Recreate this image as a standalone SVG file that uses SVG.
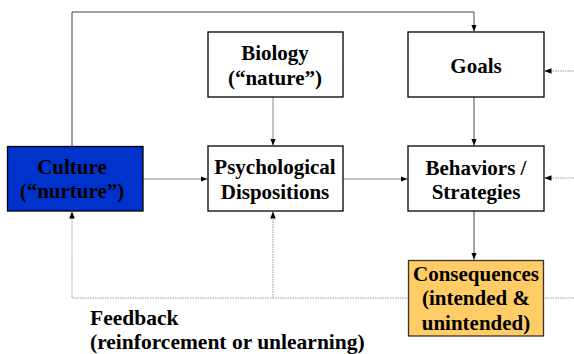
<svg xmlns="http://www.w3.org/2000/svg" width="574" height="354" viewBox="0 0 574 354">
<style>
.box{stroke:#000;stroke-width:1.3;fill:#fff}
text{font-family:'Liberation Serif','Times New Roman',Times,'DejaVu Serif',serif;font-weight:bold;fill:#000}
.t{font-size:21px;text-anchor:middle}
.tl{font-size:21.5px}
.c{fill:none;stroke:#444;stroke-width:1}
.g{fill:none;stroke:#888;stroke-width:1}
.d{fill:none;stroke:#999;stroke-width:1;stroke-dasharray:1.5,1}
</style>
<defs>
<marker id="a" viewBox="0 0 10 10" refX="10" refY="5" markerWidth="7" markerHeight="7" markerUnits="userSpaceOnUse" orient="auto">
<path d="M0,1 L10,5 L0,9 z" fill="#000"/>
</marker>
</defs>
<g id="connectors">
<path class="c" d="M72,146 V12 H474 V31.5" marker-end="url(#a)"/>
<path class="g" d="M273,97 V145.5" marker-end="url(#a)"/>
<path class="g" d="M143,179 H207.5" marker-end="url(#a)"/>
<path class="g" d="M343,179 H407.5" marker-end="url(#a)"/>
<path class="c" d="M474,97 V145.5" marker-end="url(#a)"/>
<path class="c" d="M474,211 V259.5" marker-end="url(#a)"/>
<path class="d" d="M574,71 H544.5" marker-end="url(#a)"/>
<path class="d" d="M574,178 H544.5" marker-end="url(#a)"/>
<path class="d" d="M574,298 H72 V211.5" marker-end="url(#a)"/>
<path class="d" d="M273,298 V211.5" marker-end="url(#a)"/>
</g>
<g id="culture">
<rect x="7.5" y="146.5" width="135.5" height="64.5" fill="#0033CC" stroke="#000" stroke-width="1.3"/>
<text class="t" x="72" y="174">Culture</text>
<text class="t" x="72" y="198">(“nurture”)</text>
</g>
<g id="biology">
<rect class="box" x="208" y="32" width="135" height="65"/>
<text class="t" x="275" y="60">Biology</text>
<text class="t" x="275" y="85">(“nature”)</text>
</g>
<g id="psych">
<rect class="box" x="208" y="146" width="135" height="65"/>
<text class="t" x="275" y="174">Psychological</text>
<text class="t" x="275" y="199">Dispositions</text>
</g>
<g id="goals">
<rect class="box" x="408" y="32" width="136" height="65"/>
<text class="t" x="476" y="73">Goals</text>
</g>
<g id="behaviors">
<rect class="box" x="408" y="146" width="136" height="65"/>
<text class="t" x="476" y="175">Behaviors /</text>
<text class="t" x="476" y="199">Strategies</text>
</g>
<g id="consequences">
<rect x="408.5" y="260.5" width="135" height="75.5" fill="#FFCC66" stroke="#333" stroke-width="1.3"/>
<text class="t" x="476" y="281">Consequences</text>
<text class="t" x="476" y="305">(intended &amp;</text>
<text class="t" x="476" y="330">unintended)</text>
</g>
<g id="feedback">
<text class="tl" x="90" y="325">Feedback</text>
<text class="tl" x="90" y="349">(reinforcement or unlearning)</text>
</g>
</svg>
